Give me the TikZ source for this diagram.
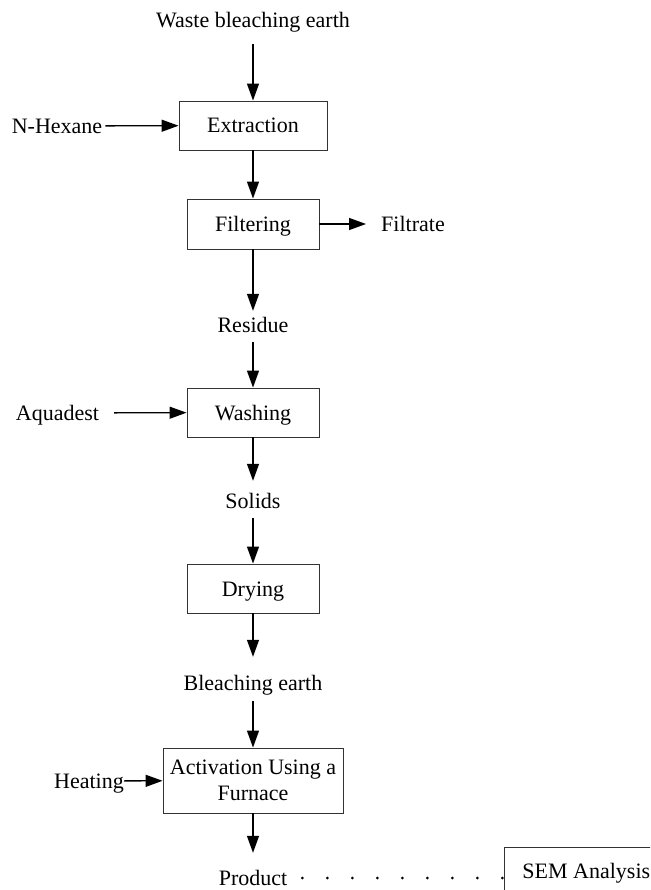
\documentclass[tikz,border=0pt]{standalone}
\usepackage{fontspec}
\setmainfont{Liberation Serif}
\usetikzlibrary{arrows.meta}
\begin{document}
\fontsize{22pt}{26pt}\selectfont
\begin{tikzpicture}[x=1pt,y=-1pt,
  box/.style={draw=black!80, line width=0.9pt, inner sep=0pt, minimum height=49pt, align=center},
  sbox/.style={box, text height=15pt, text depth=0pt},
  lbl/.style={inner sep=0pt, text height=15pt, text depth=0pt},
  arr/.style={line width=1.3pt, -{Triangle[length=17pt,width=12pt]}},
  dotline/.style={line width=3pt, line cap=round, dash pattern=on 0pt off 25pt}
]
\useasboundingbox (0,0) rectangle (650,890);
\clip (0,0) rectangle (650,890);

\node[lbl] (waste) at (253,20) {Waste bleaching earth};
\node[sbox, minimum width=148pt] (extr) at (253,125.5) {Extraction};
\node[lbl] (hex) at (57,126) {N-Hexane};
\node[sbox, minimum width=132pt, minimum height=50pt] (filt) at (253,224) {Filtering};
\node[lbl] (filtrate) at (413,224) {Filtrate};
\node[lbl] (res) at (253,325) {Residue};
\node[sbox, minimum width=132pt] (wash) at (253,412.5) {Washing};
\node[lbl] (aqua) at (57.5,413) {Aquadest};
\node[lbl] (sol) at (253,501) {Solids};
\node[sbox, minimum width=132pt] (dry) at (253,588.5) {Drying};
\node[lbl] (bleach) at (253,683) {Bleaching earth};
\node[box, minimum width=180pt, minimum height=65pt] (act) at (253,780.5) {Activation Using a\\Furnace};
\node[lbl] (heat) at (89,781) {Heating};
\node[lbl] (prod) at (253,878) {Product};
\node[draw=black!80, line width=0.9pt, anchor=north west, inner xsep=18pt, inner ysep=16pt, text height=15pt, text depth=0pt] (sem) at (504,847) {SEM Analysis};

\draw[arr, shorten <=16.5pt] (waste) -- (extr);
\draw[arr, shorten <=3pt] (hex) -- (extr);
\draw[arr] (extr) -- (filt);
\draw[arr, shorten >=15pt] (filt) -- (filtrate);
\draw[arr, shorten >=6.5pt] (filt) -- (res);
\draw[arr, shorten <=9.5pt] (res) -- (wash);
\draw[arr, shorten <=15pt] (aqua) -- (wash);
\draw[arr, shorten >=12.5pt] (wash) -- (sol);
\draw[arr, shorten <=9.5pt] (sol) -- (dry);
\draw[arr, shorten >=18.5pt] (dry) -- (bleach);
\draw[arr, shorten <=10.5pt] (bleach) -- (act);
\draw[arr] (heat) -- (act);
\draw[arr, shorten >=17.5pt] (act) -- (prod);
\draw[dotline, shorten <=15pt] (prod.east) -- (prod.east -| sem.west);
\end{tikzpicture}
\end{document}
